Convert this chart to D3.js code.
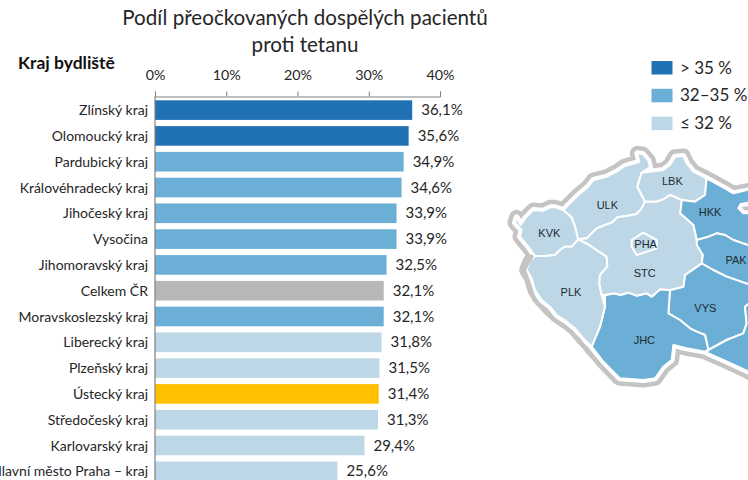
<!DOCTYPE html>
<html>
<head>
<meta charset="utf-8">
<script src="https://cdn.jsdelivr.net/npm/d3@7"></script>
<style>
  html, body { margin: 0; padding: 0; background: #fff; overflow: hidden; }
  text { font-family: Lato, "Open Sans", sans-serif; fill: #262626; }
  .map-label { font-family: "Liberation Sans", Arial, sans-serif; font-size: 11px; fill: #1f2a33; }
</style>
</head>
<body>
<div id="chart"></div>
<script>
// Data
var categories = ["Zlínský kraj", "Olomoucký kraj", "Pardubický kraj", "Královéhradecký kraj",
  "Jihočeský kraj", "Vysočina", "Jihomoravský kraj", "Celkem ČR", "Moravskoslezský kraj",
  "Liberecký kraj", "Plzeňský kraj", "Ústecký kraj", "Středočeský kraj", "Karlovarský kraj",
  "Hlavní město Praha – kraj"];
var values = [36.1, 35.6, 34.9, 34.6, 33.9, 33.9, 32.5, 32.1, 32.1, 31.8, 31.5, 31.4, 31.3, 29.4, 25.6];
var groups = ["high", "high", "mid", "mid", "mid", "mid", "mid", "total", "mid", "low", "low", "own", "low", "low", "low"];
var axisTicks = [0, 10, 20, 30, 40];
var legendKeys = ["high", "mid", "low"];
var legendLabels = ["> 35 %", "32–35 %", "≤ 32 %"];

// Region outlines in map units
var regionKVK = [[50,262],[62,285],[78,262],[100,240],[130,242],[150,232],[165,232],[190,240],[215,262],[222,280],[228,300],[235,328],[215,350],[195,350],[180,360],[165,375],[135,378],[105,378],[85,350],[60,320],[65,300],[45,278]];
var regionULK = [[190,240],[215,215],[235,195],[265,170],[280,150],[320,140],[350,125],[375,108],[418,96],[412,70],[428,72],[445,92],[450,112],[425,128],[412,170],[425,195],[435,215],[425,235],[410,252],[380,258],[352,262],[335,278],[315,285],[290,295],[275,310],[260,325],[235,328],[228,300],[222,280],[215,262]];
var regionLBK = [[425,128],[450,125],[490,120],[510,105],[525,80],[550,78],[560,100],[580,125],[620,145],[615,195],[585,215],[545,210],[510,195],[490,208],[470,215],[435,215],[425,195],[412,170]];
var regionHKK = [[620,145],[675,175],[700,190],[760,175],[760,215],[722,222],[715,235],[730,250],[760,250],[760,355],[744,345],[700,330],[675,315],[650,310],[620,322],[590,330],[580,285],[540,250],[545,210],[585,215],[615,195]];
var regionPAK = [[590,330],[620,322],[650,310],[675,315],[700,330],[744,345],[760,355],[760,450],[744,462],[680,440],[640,420],[605,400],[608,375],[590,345]];
var regionVYS = [[605,400],[640,420],[680,440],[744,462],[760,470],[760,510],[735,530],[740,580],[730,610],[680,630],[625,660],[615,615],[590,605],[570,595],[540,570],[505,550],[510,480],[550,470],[555,435]];
var regionJHM = [[625,660],[680,630],[730,610],[740,580],[735,530],[760,510],[770,730],[740,722],[670,690],[620,668]];
var regionJHC = [[315,495],[345,490],[360,495],[385,488],[410,497],[440,490],[455,500],[480,478],[510,480],[505,550],[540,570],[570,595],[590,605],[615,615],[625,660],[615,665],[560,655],[520,645],[515,690],[490,710],[465,745],[430,750],[360,745],[310,695],[275,650],[300,590],[315,530]];
var regionPLK = [[105,378],[135,378],[165,375],[180,360],[195,350],[215,350],[235,328],[260,340],[290,360],[320,380],[322,410],[300,435],[298,460],[305,495],[315,530],[300,590],[275,650],[250,625],[225,595],[200,575],[170,555],[150,530],[125,510],[105,480],[95,445],[80,420],[90,395]];
var regionSTC = [[260,325],[275,310],[290,295],[315,285],[335,278],[352,262],[380,258],[410,252],[425,235],[435,215],[470,215],[490,208],[510,195],[545,210],[540,250],[580,285],[590,330],[590,345],[608,375],[605,400],[555,435],[550,470],[510,480],[480,478],[455,500],[440,490],[410,497],[385,488],[360,495],[345,490],[315,495],[305,495],[298,460],[300,435],[322,410],[320,380],[290,360],[260,340],[235,328]];
var regionPHA = [[395,330],[430,308],[470,330],[470,355],[410,375],[395,350]];
// Country outline, the outer edge of the regions above
var countryOutline = [[50,262],[62,285],[78,262],[100,240],[130,242],[150,232],[165,232],[190,240],[215,215],[235,195],[265,170],[280,150],[320,140],[350,125],[375,108],[418,96],[412,70],[428,72],[445,92],[450,112],[450,125],[490,120],[510,105],[525,80],[550,78],[560,100],[580,125],[620,145],[675,175],[700,190],[780,175],[780,215],[722,222],[715,235],[730,250],[780,250],[780,745],[740,722],[670,690],[620,668],[615,665],[560,655],[520,645],[515,690],[490,710],[465,745],[430,750],[360,745],[310,695],[275,650],[250,625],[225,595],[200,575],[170,555],[150,530],[125,510],[105,480],[95,445],[80,420],[90,395],[105,378],[85,350],[60,320],[65,300],[45,278]];
// South-west run of the grey border as it lies in the picture
var southWestBorder = [[95,380],[72,420],[88,465],[103,510],[135,545],[165,572],[205,598],[237,630],[262,665],[300,705],[345,755]];

var regionShapes = [regionKVK, regionULK, regionLBK, regionHKK, regionPAK, regionVYS, regionJHM, regionJHC, regionPLK, regionSTC, regionPHA];
var regionGroups = ["low", "low", "low", "mid", "mid", "mid", "mid", "mid", "low", "low", "low"];
var regionCodes = ["KVK", "ULK", "LBK", "HKK", "PAK", "VYS", "PLK", "STC", "PHA", "JHC"];
var codeX = [148, 322, 517, 630, 708, 616, 213, 434, 437, 433];
var codeY = [308, 226, 154, 247, 391, 533, 487, 430, 343, 629];

var w = 748;
var h = 480;

var svg = d3.select("#chart").append("svg").attr("width", w).attr("height", h).style("display", "block");

var color = d3.scaleOrdinal()
  .domain(["high", "mid", "low", "total", "own"])
  .range(["#2171b5", "#6baed6", "#bdd7e7", "#b7b7b7", "#ffc000"]);

// Title
svg.append("text").attr("x", 305).attr("y", 25).attr("text-anchor", "middle")
  .style("font-size", "20.6px").text("Podíl přeočkovaných dospělých pacientů");
svg.append("text").attr("x", 305).attr("y", 52).attr("text-anchor", "middle")
  .style("font-size", "20.6px").text("proti tetanu");
svg.append("text").attr("x", 18).attr("y", 69)
  .style("font-size", "17.5px").style("font-weight", "bold").style("fill", "#111").text("Kraj bydliště");

// Scales
var xScale = d3.scaleLinear().domain([0, 40]).range([155, 440]);
var yScale = d3.scaleBand().domain(categories).range([97.2, 97.2 + 15 * 25.8]).paddingInner(0.24).paddingOuter(0.12);

// Bars
svg.selectAll("rect.bar")
  .data(categories)
  .enter()
  .append("rect")
  .attr("class", "bar")
  .attr("x", xScale(0))
  .attr("y", function (d) { return yScale(d); })
  .attr("width", function (d, i) { return xScale(values[i]) - xScale(0); })
  .attr("height", yScale.bandwidth())
  .attr("fill", function (d, i) { return color(groups[i]); });

// Value labels
svg.selectAll("text.value")
  .data(categories)
  .enter()
  .append("text")
  .attr("class", "value")
  .attr("x", function (d, i) { return xScale(values[i]) + 9; })
  .attr("y", function (d) { return yScale(d) + yScale.bandwidth() / 2 + 5; })
  .style("font-size", "15px")
  .text(function (d, i) { return d3.format(".1f")(values[i]).replace(".", ",") + "%"; });

// Category labels
svg.selectAll("text.cat")
  .data(categories)
  .enter()
  .append("text")
  .attr("class", "cat")
  .attr("x", 148)
  .attr("y", function (d) { return yScale(d) + yScale.bandwidth() / 2 + 5; })
  .attr("text-anchor", "end")
  .style("font-size", "14px")
  .text(function (d) { return d; });

// Axes
var xAxis = d3.axisTop(xScale).tickValues(axisTicks).tickSize(5).tickPadding(11.5)
  .tickFormat(function (d) { return d + "%"; });
var axisG = svg.append("g").attr("transform", "translate(0,96.5)").call(xAxis);
axisG.selectAll("path, line").attr("stroke", "#808080");
axisG.selectAll("text").style("font-size", "14.3px").style("font-family", "Lato, sans-serif").attr("fill", "#262626");

svg.append("line").attr("x1", xScale(0)).attr("x2", xScale(0)).attr("y1", 96.5).attr("y2", h)
  .attr("stroke", "#808080").attr("stroke-width", 1.2);

// Legend
var legend = svg.selectAll("g.legend")
  .data(legendKeys)
  .enter()
  .append("g")
  .attr("class", "legend")
  .attr("transform", function (d, i) { return "translate(651.5," + (61 + i * 27.8) + ")"; });
legend.append("rect").attr("width", 21).attr("height", 13.5)
  .attr("fill", function (d) { return color(d); });
legend.append("text").attr("x", 28.5).attr("y", 12.5)
  .style("font-size", "17px")
  .text(function (d, i) { return legendLabels[i]; });

// Map
var mapX = d3.scaleLinear().domain([0, 744]).range([500, 748]);
var mapY = d3.scaleLinear().domain([0, 720]).range([130, 370]);
var regionLine = d3.line()
  .x(function (d) { return mapX(d[0]); })
  .y(function (d) { return mapY(d[1]); })
  .curve(d3.curveLinearClosed);

var map = svg.append("g").attr("stroke-linejoin", "round");
// grey country border, drawn as one outline, white gap inside it
map.append("path").datum(countryOutline)
  .attr("d", regionLine)
  .attr("fill", "#c4c4c4")
  .attr("stroke", "#c4c4c4")
  .attr("stroke-width", 15);
map.append("path").datum(countryOutline)
  .attr("d", regionLine)
  .attr("fill", "#fff")
  .attr("stroke", "#fff")
  .attr("stroke-width", 6);
map.append("g").selectAll("path").data(regionShapes).enter().append("path")
  .attr("d", regionLine)
  .attr("fill", function (d, i) { return color(regionGroups[i]); })
  .attr("stroke", "#fff")
  .attr("stroke-width", 2);
map.append("path").datum(southWestBorder)
  .attr("d", regionLine.curve(d3.curveLinear))
  .attr("fill", "none")
  .attr("stroke", "#c4c4c4")
  .attr("stroke-width", 4)
  .attr("stroke-linecap", "round");

svg.selectAll("text.map-label")
  .data(regionCodes)
  .enter()
  .append("text")
  .attr("class", "map-label")
  .attr("x", function (d, i) { return mapX(codeX[i]); })
  .attr("y", function (d, i) { return mapY(codeY[i]) + 4; })
  .attr("text-anchor", "middle")
  .text(function (d) { return d; });
</script>
</body>
</html>
